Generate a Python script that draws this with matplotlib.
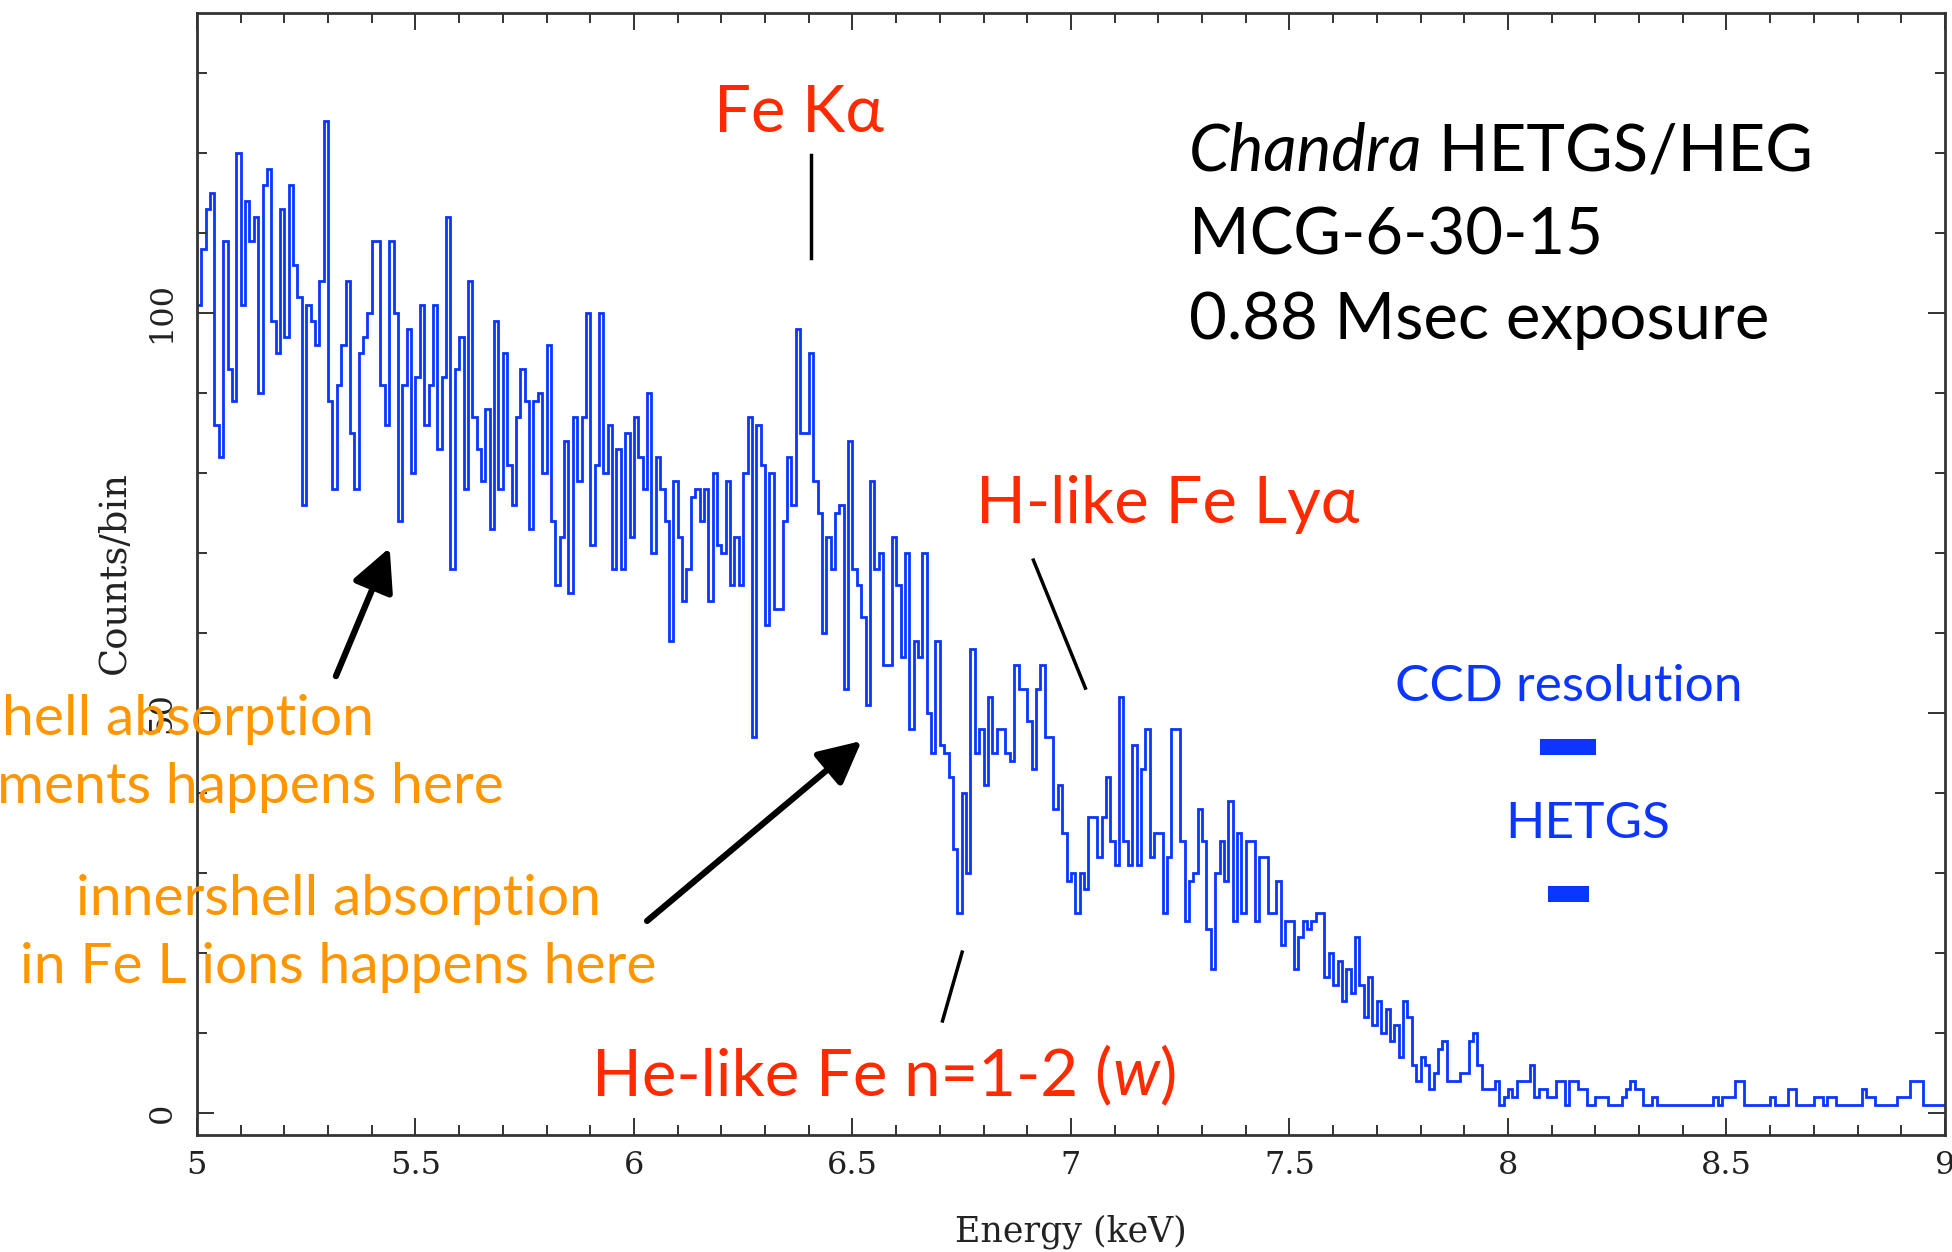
import numpy as np
import matplotlib
matplotlib.use('Agg')
import matplotlib.pyplot as plt
from matplotlib.patches import Rectangle, FancyArrowPatch

# HEG spectrum, counts per 0.01 keV bin from 5.00 to 9.00 keV
e_start = 5.0
e_width = 0.01
counts = [
    101, 108, 113, 115, 86, 82, 109, 93, 89, 120,
    101, 114, 109, 112, 90, 116, 118, 99, 95, 113,
    97, 116, 106, 102, 76, 101, 99, 96, 104, 124,
    89, 78, 91, 96, 104, 85, 78, 95, 97, 100,
    109, 109, 91, 86, 109, 100, 74, 91, 98, 80,
    92, 101, 86, 91, 101, 83, 92, 112, 68, 93,
    97, 78, 104, 87, 83, 79, 88, 73, 99, 78,
    95, 81, 76, 87, 93, 89, 73, 89, 90, 80,
    96, 74, 66, 72, 84, 65, 87, 79, 87, 100,
    71, 81, 100, 80, 86, 68, 83, 68, 85, 72,
    87, 82, 78, 90, 70, 82, 78, 74, 59, 79,
    72, 64, 68, 77, 78, 74, 78, 64, 80, 71,
    70, 79, 66, 72, 66, 80, 87, 47, 86, 81,
    61, 80, 63, 63, 74, 82, 76, 98, 85, 85,
    95, 79, 75, 60, 72, 68, 75, 76, 53, 84,
    68, 66, 62, 51, 79, 68, 70, 56, 56, 72,
    66, 57, 70, 48, 59, 57, 70, 50, 45, 59,
    46, 45, 42, 33, 25, 40, 30, 58, 45, 48,
    41, 52, 45, 48, 48, 45, 44, 56, 53, 53,
    49, 43, 53, 56, 47, 47, 38, 41, 35, 29,
    30, 25, 30, 28, 37, 37, 32, 37, 42, 34,
    31, 52, 34, 31, 46, 31, 43, 48, 32, 35,
    35, 25, 32, 48, 48, 34, 24, 29, 30, 38,
    34, 23, 18, 30, 34, 29, 39, 24, 35, 25,
    34, 34, 24, 32, 32, 25, 25, 29, 21, 24,
    24, 18, 22, 24, 23, 24, 25, 25, 17, 20,
    16, 19, 14, 18, 15, 22, 16, 12, 17, 11,
    14, 10, 13, 9, 11, 7, 14, 12, 6, 4,
    7, 6, 3, 5, 8, 9, 4, 4, 4, 5,
    5, 9, 10, 6, 3, 3, 3, 4, 1, 2,
    3, 2, 4, 4, 4, 6, 2, 3, 3, 2,
    2, 4, 4, 1, 4, 4, 3, 3, 1, 1,
    2, 2, 2, 1, 1, 1, 2, 3, 4, 3,
    3, 1, 1, 2, 1, 1, 1, 1, 1, 1,
    1, 1, 1, 1, 1, 1, 1, 2, 1, 2,
    2, 2, 4, 4, 1, 1, 1, 1, 1, 1,
    2, 1, 1, 1, 3, 3, 1, 1, 1, 1,
    2, 2, 1, 2, 2, 1, 1, 1, 1, 1,
    1, 3, 2, 2, 1, 1, 1, 1, 1, 2,
    2, 2, 4, 4, 4, 1, 1, 1, 1, 1,
]
edges = e_start + e_width * np.arange(len(counts) + 1)

# resolution bars (keV extent, counts level)
ccd_bar = (8.073, 8.201, 45.75)
hetgs_bar = (8.092, 8.185, 27.4)

blue = '#0b36ff'
red = '#ff2a00'
orange = '#ff9600'
sans = ['Lato', 'DejaVu Sans']
serif = 'DejaVu Serif'

fig = plt.figure(figsize=(19.52, 12.52), dpi=100)
ax = fig.add_axes([0.1009, 0.0935, 0.8955, 0.8962])

ax.stairs(counts, edges, baseline=None, color=blue, lw=2.0)

ax.set_xlim(5, 9)
ax.set_ylim(-2.75, 137.5)
ax.set_xticks([5, 5.5, 6, 6.5, 7, 7.5, 8, 8.5, 9])
ax.set_xticklabels(['5', '5.5', '6', '6.5', '7', '7.5', '8', '8.5', '9'])
ax.set_xticks(np.arange(5, 9.01, 0.1), minor=True)
ax.set_yticks([0, 50, 100])
ax.set_yticks(np.arange(0, 131, 10), minor=True)
ax.tick_params(which='both', direction='in', top=True, right=True,
               color='#333333', width=1.4)
ax.tick_params(which='major', length=12.5)
ax.tick_params(which='minor', length=7.5)
ax.tick_params(axis='x', labelsize=23, pad=11)
ax.tick_params(axis='y', labelsize=23, pad=14, labelrotation=90)
for lab in ax.get_xticklabels() + ax.get_yticklabels():
    lab.set_fontfamily(serif)
    lab.set_color('#222222')
for lab in ax.get_yticklabels():
    lab.set_va('center')
for sp in ax.spines.values():
    sp.set_color('#333333')
    sp.set_linewidth(2)

fig.text(0.5487, 0.016, 'Energy (keV)', family=serif, fontsize=25,
         ha='center', va='center', color='#222222')
fig.text(0.0587, 0.5423, 'Counts/bin', family=serif, fontsize=26.5,
         rotation=90, ha='center', va='center', color='#222222')

# resolution bars
for x0, x1, yc in (ccd_bar, hetgs_bar):
    ax.add_patch(Rectangle((x0, yc - 1.0), x1 - x0, 2.0, color=blue, lw=0))

fig.canvas.draw()
rend = fig.canvas.get_renderer()


def text_run(x, y, parts, **kw):
    for s, style in parts:
        t = ax.text(x, y, s, style=style, ha='left', va='baseline',
                    clip_on=False, **kw)
        bb = t.get_window_extent(rend)
        x = ax.transData.inverted().transform((bb.x1, bb.y0))[0]


big = dict(family=sans, fontsize=47)
ax.text(6.378, 122.6, 'Fe K\u03b1', color=red, ha='center', va='baseline', **big)
ax.plot([6.404, 6.404], [119.7, 106.9], color='black', lw=2.5, clip_on=False)

text_run(7.27, 117.8, [('Chandra', 'italic'), (' HETGS/HEG', 'normal')],
         color='black', **big)
ax.text(7.27, 107.3, 'MCG-6-30-15', color='black', va='baseline', **big)
ax.text(7.27, 96.8, '0.88 Msec exposure', color='black', va='baseline', **big)

ax.text(6.783, 73.8, 'H-like Fe Ly\u03b1', color=red, va='baseline', **big)
ax.plot([6.914, 7.033], [69.1, 53.1], color='black', lw=2.5)

text_run(5.905, 2.2, [('He-like Fe n=1-2 (', 'normal'), ('w', 'italic'),
                      (')', 'normal')], color=red, **big)
ax.plot([6.751, 6.706], [20.1, 11.5], color='black', lw=2.5)

ax.text(8.139, 51.5, 'CCD resolution', color=blue, ha='center',
        va='baseline', family=sans, fontsize=37)
ax.text(8.182, 34.4, 'HETGS', color=blue, ha='center',
        va='baseline', family=sans, fontsize=37)

mid = dict(family=sans, fontsize=41, color=orange, va='baseline', clip_on=False)
ax.text(5.404, 47.3, 'innershell absorption', ha='right', **mid)
ax.text(5.703, 38.8, 'in light elements happens here', ha='right', **mid)
ax.text(5.324, 24.75, 'innershell absorption', ha='center', **mid)
ax.text(5.324, 16.2, 'in Fe L ions happens here', ha='center', **mid)

for tail, head in [((5.318, 54.6), (5.441, 70.65)),
                   ((6.030, 24.0), (6.521, 46.5))]:
    arr = FancyArrowPatch(tail, head, arrowstyle='-|>,head_length=1.0,head_width=0.5',
                          mutation_scale=26, lw=4.5, color='black',
                          shrinkA=0, shrinkB=0, clip_on=False)
    ax.add_patch(arr)

fig.savefig('out.png', dpi=100)
